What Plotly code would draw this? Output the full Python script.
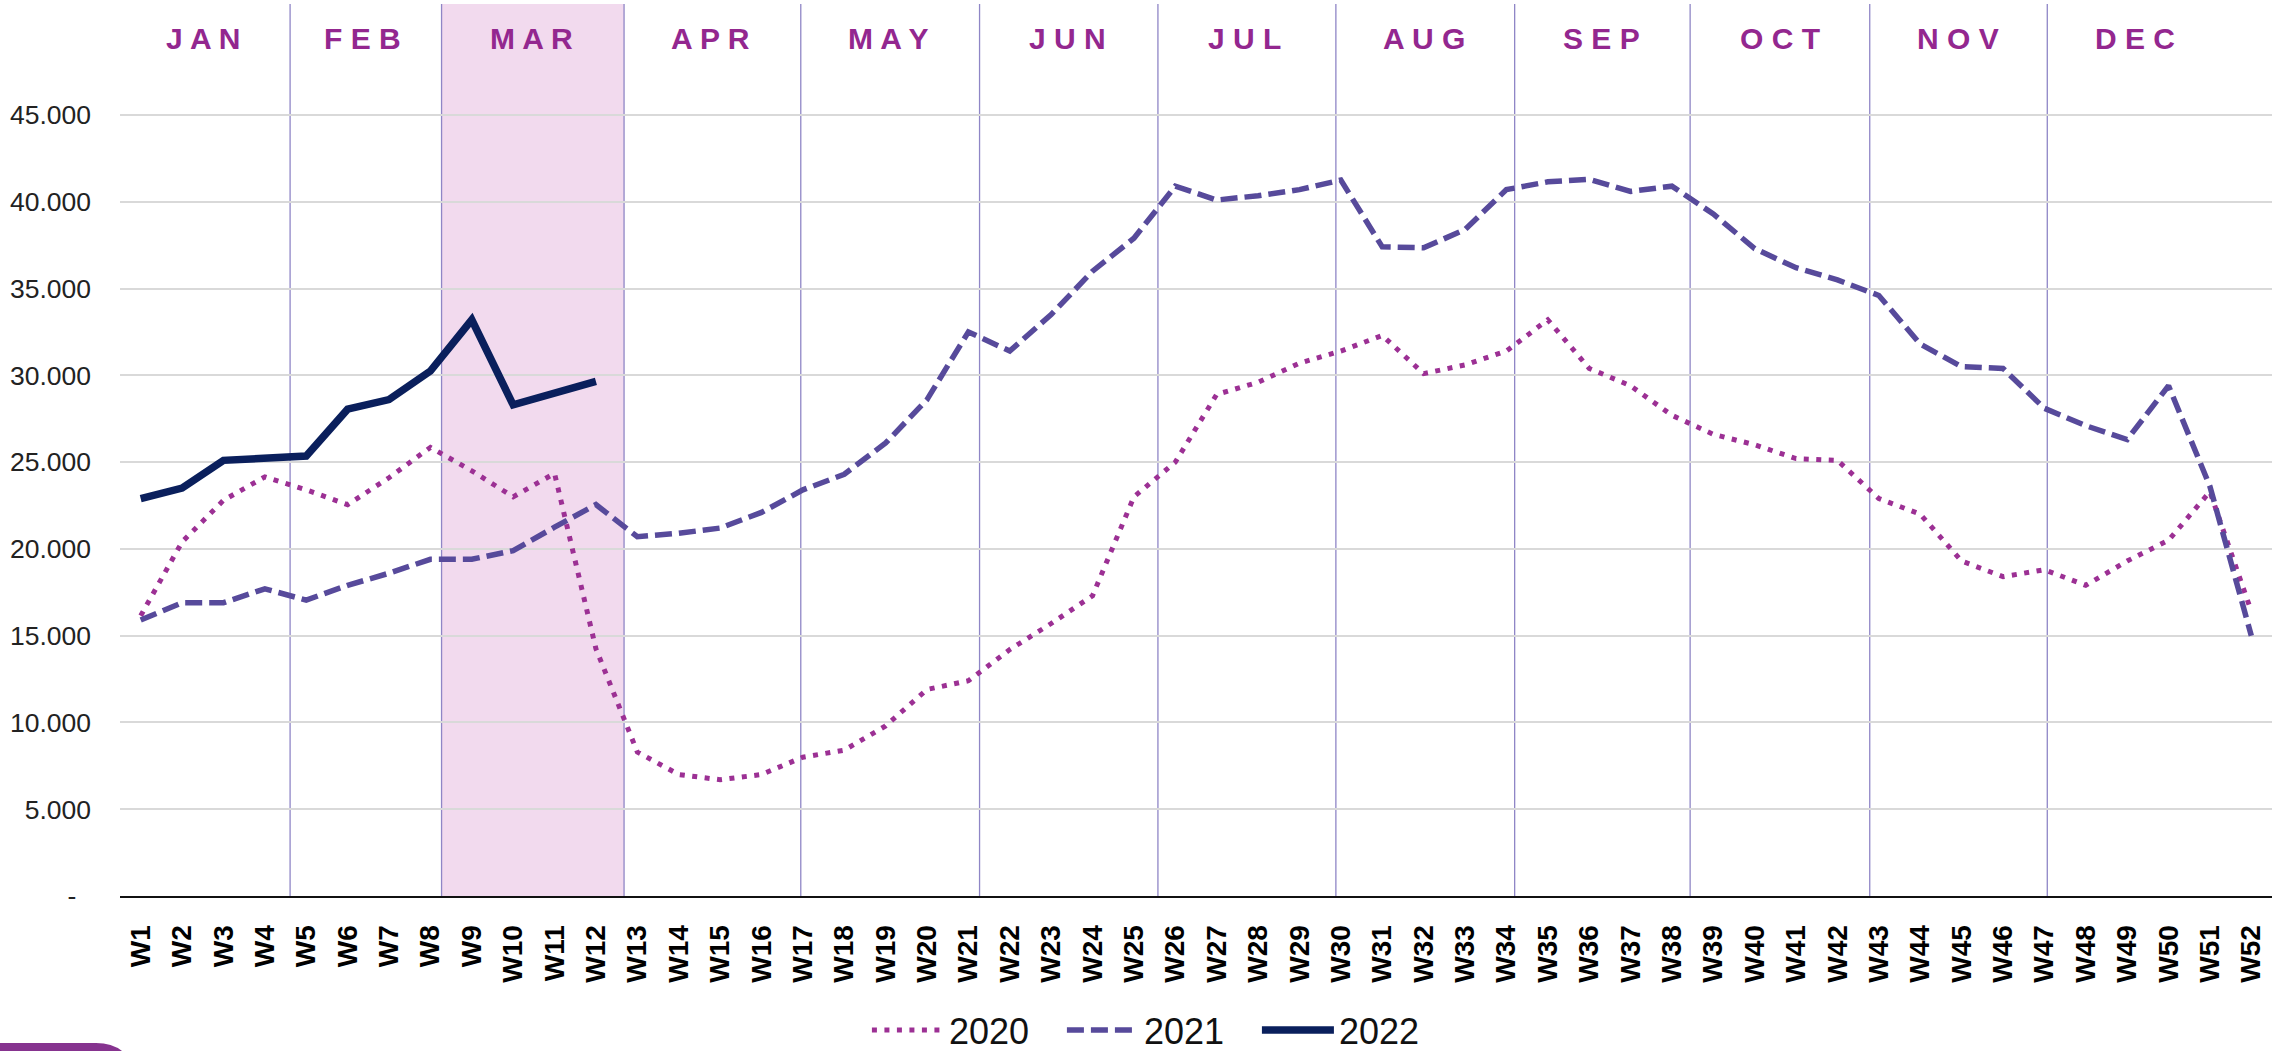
import plotly.graph_objects as go

weeks = [f"W{i}" for i in range(1, 53)]

sales_2020 = [16.15, 20.4, 22.8, 24.15, 23.4, 22.55, 24.1, 25.85, 24.5, 23.0, 24.35, 14.25,
              8.3, 7.0, 6.7, 7.0, 8.0, 8.4, 9.8, 11.9, 12.4, 14.2, 15.7, 17.3, 23.0, 25.0,
              28.9, 29.6, 30.7, 31.4, 32.3, 30.1, 30.6, 31.4, 33.2, 30.4, 29.4, 27.7, 26.6,
              26.0, 25.2, 25.1, 22.9, 22.0, 19.3, 18.4, 18.8, 17.9, 19.3, 20.5, 23.3, 16.4]
sales_2021 = [15.9, 16.9, 16.9, 17.7, 17.05, 17.9, 18.6, 19.4, 19.4, 19.9, 21.25, 22.55,
              20.7, 20.9, 21.2, 22.1, 23.4, 24.3, 26.1, 28.6, 32.5, 31.4, 33.5, 36.0, 37.9,
              40.9, 40.1, 40.35, 40.7, 41.25, 37.4, 37.35, 38.4, 40.7, 41.15, 41.3, 40.6,
              40.9, 39.3, 37.3, 36.2, 35.5, 34.6, 31.8, 30.5, 30.4, 28.1, 27.1, 26.3, 29.4,
              23.6, 15.0]
sales_2022 = [22.9, 23.5, 25.1, 25.25, 25.35, 28.05, 28.6, 30.25, 33.2, 28.3, 28.95, 29.65]

months = ["JAN", "FEB", "MAR", "APR", "MAY", "JUN", "JUL", "AUG", "SEP", "OCT", "NOV", "DEC"]
month_label_pos = [1.5, 5.37, 9.45, 13.77, 18.06, 22.39, 26.68, 31.0, 35.3, 39.62, 43.92, 48.2]
month_bounds = [3.61, 7.27, 11.68, 15.95, 20.27, 24.58, 28.88, 33.2, 37.44, 41.78, 46.07]

y_ticks = [0, 5000, 10000, 15000, 20000, 25000, 30000, 35000, 40000, 45000]
y_ticktext = ["-\u00a0\u00a0"] + [f"{v:,}".replace(",", ".") for v in y_ticks[1:]]

W, H = 2280, 1051
ML, MR, MT, MB = 120, 8, 4, 155
PW, PH = W - ML - MR, H - MT - MB
YMAX = 45000 * PH / (896 - 115)


def px(x):
    return (x - ML) / PW


def py(y):
    return (H - MB - y) / PH


fig = go.Figure()
fig.add_trace(go.Scatter(x=weeks, y=[v * 1000 for v in sales_2020], name="2020", mode="lines",
                         line=dict(color="#9c3094", width=5, dash="5px,7.5px")))
fig.add_trace(go.Scatter(x=weeks, y=[v * 1000 for v in sales_2021], name="2021", mode="lines",
                         line=dict(color="#574a9b", width=5.5, dash="17px,7px")))
fig.add_trace(go.Scatter(x=weeks[:len(sales_2022)], y=[v * 1000 for v in sales_2022], name="2022",
                         mode="lines", line=dict(color="#0a1f5c", width=7.5)))

shapes = []
# March highlight
shapes.append(dict(type="rect", xref="x", yref="paper", x0=month_bounds[1], x1=month_bounds[2],
                   y0=0, y1=1, fillcolor="#f2daee", line=dict(width=0), layer="below"))
for b in month_bounds:
    shapes.append(dict(type="line", xref="x", yref="paper", x0=b, x1=b, y0=0, y1=1,
                       line=dict(color="#8f86c6", width=1.3), layer="below"))
# decorative purple tab bottom-left
path = (f"M {px(0)},{py(1051)} L {px(0)},{py(1043)} L {px(96)},{py(1043)} "
        f"Q {px(112)},{py(1043)} {px(122)},{py(1051)} Z")
shapes.append(dict(type="path", xref="paper", yref="paper", path=path,
                   fillcolor="#86338f", line=dict(width=0)))

annotations = []
for m, pos in zip(months, month_label_pos):
    annotations.append(dict(x=pos, y=py(39), xref="x", yref="paper", text=" ".join(m),
                            showarrow=False, xanchor="center", yanchor="middle",
                            font=dict(family="Liberation Sans, Arial",
                                      size=30, color="#93278f", weight="bold")))

fig.update_layout(
    width=W, height=H,
    margin=dict(l=ML, r=MR, t=MT, b=MB, autoexpand=False),
    paper_bgcolor="white", plot_bgcolor="white",
    shapes=shapes, annotations=annotations,
    showlegend=True,
    legend=dict(orientation="h", x=0.483, xanchor="center", y=py(1030), yanchor="middle",
                font=dict(family="Liberation Sans, Arial", size=36, color="#111111"),
                bgcolor="rgba(0,0,0,0)", itemwidth=72, entrywidth=108,
                traceorder="normal"),
    xaxis=dict(type="category", range=[-0.5, 51.5], showgrid=False, showline=True,
               linecolor="#111111", linewidth=2, ticks="", tickangle=-90,
               ticklabelstandoff=16, automargin=False,
               tickfont=dict(family="Liberation Sans, Arial", size=28, color="black",
                             weight="bold")),
    yaxis=dict(range=[0, YMAX], tickvals=y_ticks, ticktext=y_ticktext, showgrid=True,
               gridcolor="#d9d9d9", gridwidth=2, zeroline=False, showline=False, ticks="",
               ticklabelstandoff=28, automargin=False,
               tickfont=dict(family="Liberation Sans, Arial", size=26.5, color="#222222")),
)

fig.write_html("out.html", config={"displayModeBar": False},
               post_script="document.body.style.margin='0';document.body.style.overflow='hidden';")
